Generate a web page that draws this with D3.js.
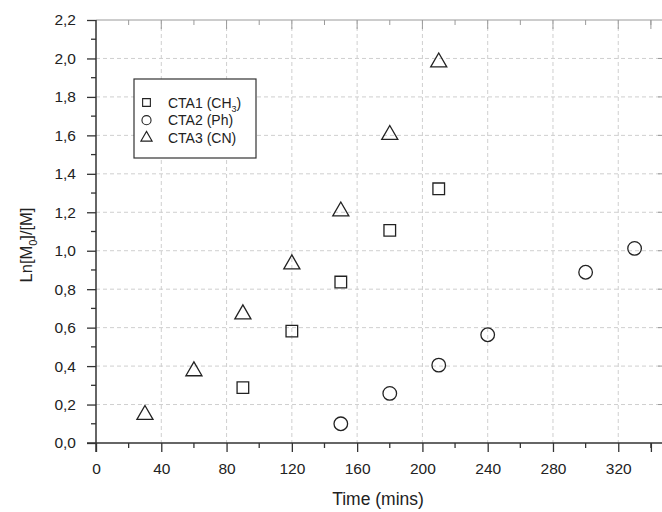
<!DOCTYPE html>
<html>
<head>
<meta charset="utf-8">
<script src="https://cdn.jsdelivr.net/npm/d3@7"></script>
<style>
  body { margin: 0; background: #fff; }
  text { font-family: "Liberation Sans", Arial, sans-serif; fill: #222; }
</style>
</head>
<body>
<div id="chart"><svg></svg></div>
<script>
// data
var cta1Time = [90, 120, 150, 180, 210];
var cta1Val = [0.288, 0.582, 0.837, 1.106, 1.322];
var cta2Time = [150, 180, 210, 240, 300, 330];
var cta2Val = [0.10, 0.258, 0.405, 0.563, 0.888, 1.012];
var cta3Time = [30, 60, 90, 120, 150, 180, 210];
var cta3Val = [0.147, 0.374, 0.67, 0.93, 1.205, 1.603, 1.98];
var xTicks = [0, 40, 80, 120, 160, 200, 240, 280, 320];
var yTicks = [0, 0.2, 0.4, 0.6, 0.8, 1.0, 1.2, 1.4, 1.6, 1.8, 2.0, 2.2];

var W = 662, H = 512;
var margin = { top: 20, right: 0, bottom: 69, left: 96 };
var width = W - margin.left - margin.right,
    height = H - margin.top - margin.bottom;

var svg = d3.select("#chart").select("svg")
    .attr("width", W)
    .attr("height", H)
    .append("g")
    .attr("transform", "translate(" + margin.left + "," + margin.top + ")");

var x = d3.scaleLinear().domain([0, 346.8]).range([0, width]);
var y = d3.scaleLinear().domain([0, 2.2]).range([height, 0]);

var fmt = function (d) { return d3.format(".1f")(d).replace(".", ","); };

// grid
svg.append("g").selectAll("line")
    .data(xTicks.slice(1))
    .enter().append("line")
    .attr("x1", function (d) { return x(d); }).attr("x2", function (d) { return x(d); })
    .attr("y1", 0).attr("y2", height)
    .attr("stroke", "#cfcfcf").attr("stroke-dasharray", "4,3");
svg.append("g").selectAll("line")
    .data(yTicks.slice(1, -1))
    .enter().append("line")
    .attr("y1", function (d) { return y(d); }).attr("y2", function (d) { return y(d); })
    .attr("x1", 0).attr("x2", width)
    .attr("stroke", "#cfcfcf").attr("stroke-dasharray", "4,3");

// minor tick values
var xMinor = d3.range(20, 347, 40);
var yMinor = d3.range(0.1, 2.2, 0.2);

// top axis (grey, ticks inside)
var topAxis = svg.append("g").attr("stroke", "#9a9a9a");
topAxis.append("line").attr("x1", 0).attr("x2", width).attr("y1", 0).attr("y2", 0);
topAxis.selectAll(".tmaj").data(xTicks.concat([340]).slice(1))
    .enter().append("line")
    .attr("x1", function (d) { return x(d); }).attr("x2", function (d) { return x(d); })
    .attr("y1", 0).attr("y2", 9);
topAxis.selectAll(".tmin").data(xMinor)
    .enter().append("line")
    .attr("x1", function (d) { return x(d); }).attr("x2", function (d) { return x(d); })
    .attr("y1", 0).attr("y2", 5);

// right axis ticks (only the inner ends show at the edge)
svg.append("g").attr("stroke", "#9a9a9a").selectAll("line")
    .data(yTicks.slice(1, -1))
    .enter().append("line")
    .attr("y1", function (d) { return y(d); }).attr("y2", function (d) { return y(d); })
    .attr("x1", width - 4).attr("x2", width);

// bottom axis
var xAxis = svg.append("g")
    .attr("transform", "translate(0," + height + ")")
    .call(d3.axisBottom(x).tickValues(xTicks.concat([340])).tickSize(9).tickPadding(11)
        .tickFormat(function (d) { return d === 340 ? "" : d; }));
xAxis.select(".domain").attr("d", "M-9,0H" + width).attr("stroke", "#333").attr("stroke-width", 1.5);
xAxis.selectAll(".tick line").attr("stroke", "#333").attr("stroke-width", 1.3);
xAxis.selectAll("text").style("font-size", "15.5px").attr("fill", "#222");
xAxis.append("g").selectAll("line").data(xMinor)
    .enter().append("line")
    .attr("x1", function (d) { return x(d); }).attr("x2", function (d) { return x(d); })
    .attr("y1", 0).attr("y2", 5).attr("stroke", "#333").attr("stroke-width", 1.3);

// left axis
var yAxis = svg.append("g")
    .call(d3.axisLeft(y).tickValues(yTicks).tickSize(9).tickPadding(11).tickFormat(fmt));
yAxis.select(".domain").attr("d", "M0,0V" + (height + 9)).attr("stroke", "#333").attr("stroke-width", 1.5);
yAxis.selectAll(".tick line").attr("stroke", "#333").attr("stroke-width", 1.3);
yAxis.selectAll("text").style("font-size", "15.5px").attr("fill", "#222");
yAxis.append("g").selectAll("line").data(yMinor)
    .enter().append("line")
    .attr("y1", function (d) { return y(d); }).attr("y2", function (d) { return y(d); })
    .attr("x1", 0).attr("x2", -5).attr("stroke", "#333").attr("stroke-width", 1.3);

// markers
var sq = d3.symbol().type(d3.symbolSquare).size(135);
var ci = d3.symbol().type(d3.symbolCircle).size(145);
var tr = d3.symbol().type(d3.symbolTriangle).size(112);

function drawSeries(tx, vals, sym) {
    svg.append("g").selectAll("path")
        .data(tx)
        .enter().append("path")
        .attr("d", sym)
        .attr("transform", function (d, i) { return "translate(" + x(d) + "," + y(vals[i]) + ")"; })
        .attr("fill", "none")
        .attr("stroke", "#222")
        .attr("stroke-width", 1.3);
}
drawSeries(cta1Time, cta1Val, sq);
drawSeries(cta2Time, cta2Val, ci);
drawSeries(cta3Time, cta3Val, tr);

// legend
var legend = svg.append("g").attr("transform", "translate(" + (134 - margin.left) + "," + (79 - margin.top) + ")");
legend.append("rect").attr("width", 122).attr("height", 79)
    .attr("fill", "#fff").attr("stroke", "#333").attr("stroke-width", 1.2);
var legItems = [
    { sym: d3.symbol().type(d3.symbolSquare).size(60), label: "CTA1 (CH", sub: "3", tail: ")" },
    { sym: d3.symbol().type(d3.symbolCircle).size(65), label: "CTA2 (Ph)" },
    { sym: d3.symbol().type(d3.symbolTriangle).size(55), label: "CTA3 (CN)" }
];
legItems.forEach(function (it, i) {
    var yy = 23.5 + i * 17.7;
    legend.append("path").attr("d", it.sym)
        .attr("transform", "translate(12.5," + yy + ")")
        .attr("fill", "none").attr("stroke", "#222").attr("stroke-width", 1.1);
    var t = legend.append("text").attr("x", 34).attr("y", yy + 5).style("font-size", "14px");
    t.append("tspan").text(it.label);
    if (it.sub) {
        t.append("tspan").attr("dy", 4).style("font-size", "9px").text(it.sub);
        t.append("tspan").attr("dy", -4).text(it.tail);
    }
});

// axis titles
svg.append("text")
    .attr("x", width / 2 - 1)
    .attr("y", height + 62)
    .attr("text-anchor", "middle")
    .style("font-size", "17.5px")
    .text("Time (mins)");

var yt = svg.append("text")
    .attr("transform", "translate(" + (32 - margin.left) + "," + (245 - margin.top) + ") rotate(-90)")
    .attr("text-anchor", "middle")
    .style("font-size", "16.5px");
yt.append("tspan").text("Ln[M");
yt.append("tspan").attr("dy", 5).style("font-size", "11px").text("0");
yt.append("tspan").attr("dy", -5).text("]/[M]");
</script>
</body>
</html>
